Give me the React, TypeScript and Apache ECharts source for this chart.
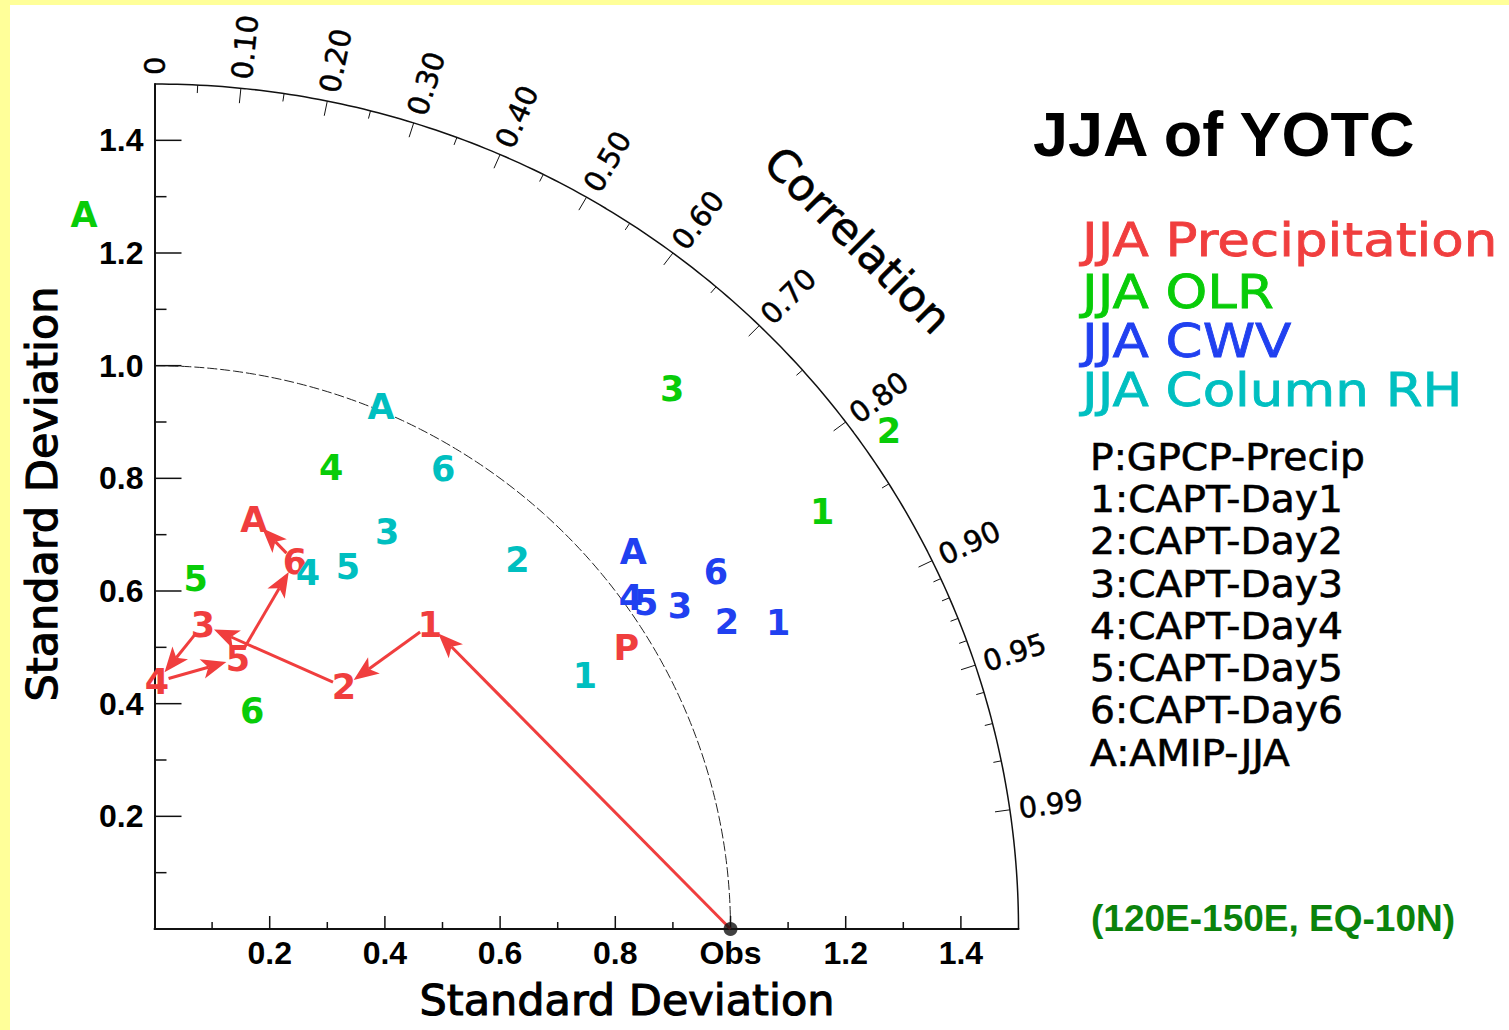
import React, { useEffect, useRef } from 'react';
import * as echarts from 'echarts';

// Marker keys shared by every field: CAPT forecast days 1-6 and the AMIP run
const MARKER_KEYS = ['1', '2', '3', '4', '5', '6', 'A'];

// Normalised standard deviation and pattern correlation per field
const precipStd = [0.721, 0.541, 0.547, 0.439, 0.501, 0.696, 0.747];
const precipCorr = [0.663, 0.608, 0.154, 0.01, 0.289, 0.35, 0.231];
const olrStd = [1.375, 1.551, 1.314, 0.874, 0.626, 0.423, 1.274];
const olrCorr = [0.843, 0.822, 0.684, 0.351, 0.114, 0.401, -0.096];
const cwvStd = [1.211, 1.133, 1.077, 1.015, 1.031, 1.163, 1.067];
const cwvCorr = [0.894, 0.877, 0.847, 0.815, 0.828, 0.838, 0.779];
const rhStd = [0.872, 0.909, 0.813, 0.686, 0.725, 0.958, 1.006];
const rhCorr = [0.857, 0.693, 0.497, 0.388, 0.463, 0.523, 0.391];

// GPCP precipitation and the reference (observation) point
const gpcpStd = 0.959;
const gpcpCorr = 0.854;
const obsStd = 1.0;
const obsCorr = 1.0;

// Correlation arc ticks
const corrMajor = [0, 0.1, 0.2, 0.3, 0.4, 0.5, 0.6, 0.7, 0.8, 0.9, 0.95, 0.99];
const corrMajorLabels = ['0', '0.10', '0.20', '0.30', '0.40', '0.50', '0.60', '0.70', '0.80', '0.90', '0.95', '0.99'];
const corrMinor = [0.05, 0.15, 0.25, 0.35, 0.45, 0.55, 0.65, 0.75, 0.85, 0.91, 0.92, 0.93, 0.94, 0.96, 0.97, 0.98];

// Standard deviation axis ticks
const stdMajor = [0.2, 0.4, 0.6, 0.8, 1.0, 1.2, 1.4];
const stdMinor = [0.1, 0.3, 0.5, 0.7, 0.9, 1.1, 1.3];
const stdMax = 1.5;

// Text blocks
const titleText = 'JJA of YOTC';
const fieldNames = ['JJA Precipitation', 'JJA OLR', 'JJA CWV', 'JJA Column RH'];
const sourceNotes = ['P:GPCP-Precip', '1:CAPT-Day1', '2:CAPT-Day2', '3:CAPT-Day3', '4:CAPT-Day4', '5:CAPT-Day5', '6:CAPT-Day6', 'A:AMIP-JJA'];
const regionText = '(120E-150E, EQ-10N)';
const axisTitle = 'Standard Deviation';
const arcTitle = 'Correlation';

const RED = '#f03e3e';
const GREEN = '#08cc08';
const BLUE = '#2040f0';
const CYAN = '#00bfc0';
const FIELD_COLORS = [RED, GREEN, BLUE, CYAN];

const GEO_FONT = '"DejaVu Sans", sans-serif';
const MARK_FONT = `bold 35px ${GEO_FONT}`;

function polarToXY(std: number, corr: number): [number, number] {
  return [std * corr, std * Math.sqrt(1 - corr * corr)];
}

function arcPoints(radius: number): number[][] {
  const pts: number[][] = [];
  for (let i = 0; i <= 180; i++) {
    const a = (i / 180) * (Math.PI / 2);
    pts.push([radius * Math.cos(a), radius * Math.sin(a)]);
  }
  return pts;
}

function markerSeries(name: string, std: number[], corr: number[], keys: string[], color: string) {
  const data = std.map((s, i) => ({ name: keys[i], value: polarToXY(s, corr[i]) }));
  return {
    type: 'custom',
    name,
    clip: false,
    silent: true,
    z: 10,
    data,
    renderItem: (params: any, api: any) => {
      const p = api.coord([api.value(0), api.value(1)]);
      return {
        type: 'text',
        x: p[0],
        y: p[1],
        style: {
          text: data[params.dataIndex].name,
          font: MARK_FONT,
          fill: color,
          align: 'center',
          verticalAlign: 'middle',
        },
      };
    },
  };
}

function buildOption() {
  // arrows follow the precipitation forecasts from the observation through day 1..6 to AMIP
  const chain = [polarToXY(obsStd, obsCorr), ...precipStd.map((s, i) => polarToXY(s, precipCorr[i]))];
  const arrowData = [];
  for (let i = 0; i < chain.length - 1; i++) {
    arrowData.push({ value: [chain[i][0], chain[i][1], chain[i + 1][0], chain[i + 1][1]] });
  }

  const corrItems = [
    ...corrMajor.map((c, i) => ({ value: [c, 1], label: corrMajorLabels[i] })),
    ...corrMinor.map((c) => ({ value: [c, 0], label: '' })),
  ];

  const stdTickItems = [
    ...stdMajor.map((v) => ({ value: [v, 1] })),
    ...stdMinor.map((v) => ({ value: [v, 0] })),
  ];

  const tickLabel = (useObs: boolean) => (v: number) => {
    if (v < 0.05 || v > stdMax - 0.05) return '';
    if (useObs && Math.abs(v - obsStd) < 1e-6) return 'Obs';
    return v.toFixed(1);
  };

  const axisCommon = {
    type: 'value',
    min: 0,
    max: stdMax,
    interval: 0.2,
    axisLine: { show: true, lineStyle: { color: '#111', width: 2 } },
    axisTick: { show: false },
    splitLine: { show: false },
  };

  const labelStyle = {
    fontFamily: '"Liberation Sans", Arial, sans-serif',
    fontWeight: 'bold',
    fontSize: 32,
    color: '#000',
    showMinLabel: false,
    showMaxLabel: false,
  };

  const titleStyle = { font: `43px ${GEO_FONT}`, fill: '#000', stroke: '#000', lineWidth: 1.1, align: 'center', verticalAlign: 'middle' };

  return {
    animation: false,
    grid: { left: 154.5, top: 84, width: 864, height: 845, containLabel: false },
    xAxis: {
      ...axisCommon,
      axisLabel: { ...labelStyle, margin: 8, formatter: tickLabel(true) },
    },
    yAxis: {
      ...axisCommon,
      axisLabel: { ...labelStyle, margin: 11, formatter: tickLabel(false) },
    },
    graphic: [
      {
        type: 'text', x: 1033, y: 134,
        style: { text: titleText, font: 'bold 63px "Liberation Sans", Arial, sans-serif', fill: '#000', align: 'left', verticalAlign: 'middle' },
      },
      ...fieldNames.map((t, i) => ({
        type: 'text', x: 1082, y: [240, 292, 341, 390][i], scaleX: 1.13,
        style: { text: t, font: `47px ${GEO_FONT}`, fill: FIELD_COLORS[i], stroke: FIELD_COLORS[i], lineWidth: 0.8, align: 'left', verticalAlign: 'middle' },
      })),
      ...sourceNotes.map((t, i) => ({
        type: 'text', x: 1090, y: 457 + i * 42.3, scaleX: 1.06,
        style: { text: t, font: `37px ${GEO_FONT}`, fill: '#000', stroke: '#000', lineWidth: 0.6, align: 'left', verticalAlign: 'middle' },
      })),
      {
        type: 'text', x: 1273, y: 918,
        style: { text: regionText, font: 'bold 37px "Liberation Sans", Arial, sans-serif', fill: '#0b820b', align: 'center', verticalAlign: 'middle' },
      },
      { type: 'text', x: 627, y: 1000, style: { text: axisTitle, ...titleStyle } },
      { type: 'text', x: 42, y: 494, rotation: Math.PI / 2, style: { text: axisTitle, ...titleStyle } },
      { type: 'text', x: 858, y: 240, rotation: -Math.PI / 4, style: { text: arcTitle, ...titleStyle, font: `44px ${GEO_FONT}`, lineWidth: 0.6 } },
    ],
    series: [
      {
        type: 'line', name: 'outer arc', data: arcPoints(stdMax), showSymbol: false, clip: false, silent: true,
        lineStyle: { color: '#111', width: 1.5 }, z: 3,
      },
      {
        type: 'line', name: 'reference arc', data: arcPoints(obsStd), showSymbol: false, clip: false, silent: true,
        lineStyle: { color: '#222', width: 1, type: [10, 3] }, z: 3,
      },
      {
        type: 'custom', name: 'std ticks', clip: false, silent: true, z: 4,
        data: stdTickItems,
        renderItem: (params: any, api: any) => {
          const v = api.value(0);
          const major = api.value(1) === 1;
          const px = api.coord([v, 0]);
          const py = api.coord([0, v]);
          const xl = major ? 13 : 7;
          const yl = major ? 27 : 12;
          return {
            type: 'group',
            children: [
              { type: 'line', shape: { x1: px[0], y1: px[1], x2: px[0], y2: px[1] - xl }, style: { stroke: '#111', lineWidth: 1.5 } },
              { type: 'line', shape: { x1: py[0], y1: py[1], x2: py[0] + yl, y2: py[1] }, style: { stroke: '#111', lineWidth: 1.5 } },
            ],
          };
        },
      },
      {
        type: 'custom', name: 'correlation ticks', clip: false, silent: true, z: 4,
        data: corrItems,
        renderItem: (params: any, api: any) => {
          const c = api.value(0);
          const major = api.value(1) === 1;
          const o = api.coord([0, 0]);
          const p = api.coord(polarToXY(stdMax, c));
          const dx = p[0] - o[0];
          const dy = p[1] - o[1];
          const L = Math.hypot(dx, dy);
          const ux = dx / L;
          const uy = dy / L;
          const len = major ? 15 : 8;
          const children: any[] = [
            { type: 'line', shape: { x1: p[0], y1: p[1], x2: p[0] - ux * len, y2: p[1] - uy * len }, style: { stroke: '#111', lineWidth: 1 } },
          ];
          if (major) {
            children.push({
              type: 'text',
              x: p[0] + ux * 9,
              y: p[1] + uy * 9,
              rotation: Math.atan2(-dy, dx),
              style: { text: corrItems[params.dataIndex].label, font: `29px ${GEO_FONT}`, fill: '#000', stroke: '#000', lineWidth: 0.5, align: 'left', verticalAlign: 'middle' },
            });
          }
          return { type: 'group', children };
        },
      },
      {
        type: 'custom', name: 'precip arrows', clip: false, silent: true, z: 6,
        data: arrowData,
        renderItem: (params: any, api: any) => {
          const a = api.coord([api.value(0), api.value(1)]);
          const b = api.coord([api.value(2), api.value(3)]);
          const dx = b[0] - a[0];
          const dy = b[1] - a[1];
          const L = Math.hypot(dx, dy);
          const ux = dx / L;
          const uy = dy / L;
          const nx = -uy;
          const ny = ux;
          const startTrim = params.dataIndex === 0 ? 0 : 12;
          const sx = a[0] + ux * startTrim;
          const sy = a[1] + uy * startTrim;
          const tx = b[0] - ux * 12;
          const ty = b[1] - uy * 12;
          const head = 25;
          const half = 10;
          const bx = tx - ux * head;
          const by = ty - uy * head;
          const mx = tx - ux * head * 0.75;
          const my = ty - uy * head * 0.75;
          return {
            type: 'group',
            children: [
              { type: 'line', shape: { x1: sx, y1: sy, x2: mx, y2: my }, style: { stroke: RED, lineWidth: 3 } },
              {
                type: 'polygon',
                shape: { points: [[tx, ty], [bx + nx * half, by + ny * half], [mx, my], [bx - nx * half, by - ny * half]] },
                style: { fill: RED },
              },
            ],
          };
        },
      },
      markerSeries('JJA Precipitation', precipStd, precipCorr, MARKER_KEYS, RED),
      markerSeries('GPCP', [gpcpStd], [gpcpCorr], ['P'], RED),
      markerSeries('JJA OLR', olrStd, olrCorr, MARKER_KEYS, GREEN),
      markerSeries('JJA CWV', cwvStd, cwvCorr, MARKER_KEYS, BLUE),
      markerSeries('JJA Column RH', rhStd, rhCorr, MARKER_KEYS, CYAN),
      {
        type: 'scatter', name: 'Obs', clip: false, silent: true, z: 12,
        data: [polarToXY(obsStd, obsCorr)],
        symbolSize: 14,
        itemStyle: { color: '#111' },
      },
    ],
  };
}

export default function App() {
  const ref = useRef<HTMLDivElement>(null);
  useEffect(() => {
    if (!ref.current) return;
    const chart = echarts.init(ref.current, undefined, { renderer: 'svg' });
    chart.setOption(buildOption() as any);
    return () => chart.dispose();
  }, []);
  return (
    <div style={{ position: 'fixed', left: 0, top: 0, width: 1509, height: 1030, background: '#ffff99', overflow: 'hidden' }}>
      <div style={{ position: 'absolute', left: 10, top: 5, right: 0, bottom: 0, background: '#ffffff' }} />
      <div ref={ref} style={{ position: 'absolute', left: 0, top: 0, width: 1509, height: 1030 }} />
    </div>
  );
}
